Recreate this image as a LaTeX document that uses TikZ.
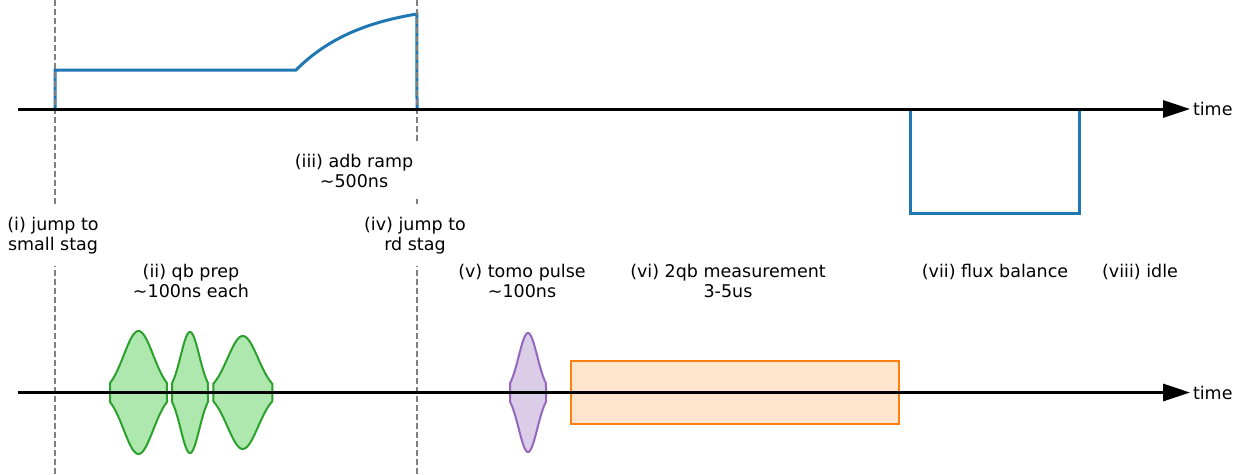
\documentclass[tikz,border=0pt]{standalone}
\usepackage{fontspec}
\setmainfont{DejaVu Sans}
\usepackage{tikz}
\usetikzlibrary{arrows.meta, positioning}

\definecolor{tabblue}{HTML}{1F77B4}
\definecolor{tabgreen}{HTML}{2CA02C}
\definecolor{taborange}{HTML}{FF7F0E}
\definecolor{tabpurple}{HTML}{9467BD}
\definecolor{qbfill}{HTML}{AFE8AF}
\definecolor{tomofill}{HTML}{DBCDE8}
\definecolor{measfill}{HTML}{FFE4CE}

\begin{document}
\begin{tikzpicture}[
    x=1pt, y=-1pt,
    axis/.style={line width=3pt, -{Triangle[length=27pt, width=17pt]}},
    wave/.style={tabblue, line width=3pt},
    guide/.style={gray, line width=1.5pt, dash pattern=on 6pt off 3pt},
    lbl/.style={font=\fontsize{17.5}{20}\selectfont, align=center, anchor=north, inner sep=0pt},
    mask/.style={lbl, fill=white, inner sep=12pt},
    timelbl/.style={font=\fontsize{17.5}{20}\selectfont, inner sep=1.5pt, anchor=west},
    qbpulse/.style={draw=tabgreen, fill=qbfill, line width=2pt, line join=round},
    tomopulse/.style={draw=tabpurple, fill=tomofill, line width=2pt, line join=round},
    measbox/.style={draw=taborange, fill=measfill, line width=2pt},
  ]
  \useasboundingbox (0,0) rectangle (1250,474);

  % flux line
  \draw[wave] (55,109) -- (55,70) -- (296,70)
    -- plot[domain=0:1, samples=30] ({296+121*\x}, {70-56*(1-exp(-1.8*\x))/(1-exp(-1.8))})
    -- (417,109);
  \draw[wave] (910,109) -- (910,213) -- (1079,213) -- (1079,109);

  % drive line
  \foreach \c/\w/\a in {138.5/28.5/61.5, 190/18/60.5, 242.8/29.5/56.5}
    \draw[qbpulse] plot[domain=-1:1, samples=41] ({\c+\w*\x}, {392.5-\a*exp(-1.866*\x*\x)})
      -- plot[domain=1:-1, samples=41] ({\c+\w*\x}, {392.5+\a*exp(-1.866*\x*\x)}) -- cycle;
  \draw[tomopulse] plot[domain=-1:1, samples=41] ({528+18*\x}, {392.5-59.5*exp(-1.866*\x*\x)})
    -- plot[domain=1:-1, samples=41] ({528+18*\x}, {392.5+59.5*exp(-1.866*\x*\x)}) -- cycle;
  \draw[measbox] (571,361) rectangle (899,424);

  \draw[guide] (55,0) -- (55,474);
  \draw[guide] (417,0) -- (417,474);

  \coordinate (fstart) at (18,109);
  \coordinate (fend) at (1190,109);
  \coordinate (dstart) at (18,392.5);
  \coordinate (dend) at (1190,392.5);
  \draw[axis] (fstart) -- (fend) node[timelbl] (ftime) {time};
  \draw[axis] (dstart) -- (dend) node[timelbl] (dtime) {time};

  \node[mask] (jump1) at (53,204.7) {(i) jump to\\small stag};
  \node[mask] (ramp) at (354,141.7) {(iii) adb ramp\\\textasciitilde500ns};
  \node[mask] (jump2) at (415,204.7) {(iv) jump to\\rd stag};
  \node[lbl] (prep) at (191,263.7) {(ii) qb prep\\\textasciitilde100ns each};
  \node[lbl] (tomo) at (522,263.7) {(v) tomo pulse\\\textasciitilde100ns};
  \node[lbl] (meas) at (728,263.7) {(vi) 2qb measurement\\3-5us};
  \node[lbl] (balance) at (995,263.7) {(vii) flux balance};
  \node[lbl] (idle) at (1140,263.7) {(viii) idle};
\end{tikzpicture}
\end{document}
